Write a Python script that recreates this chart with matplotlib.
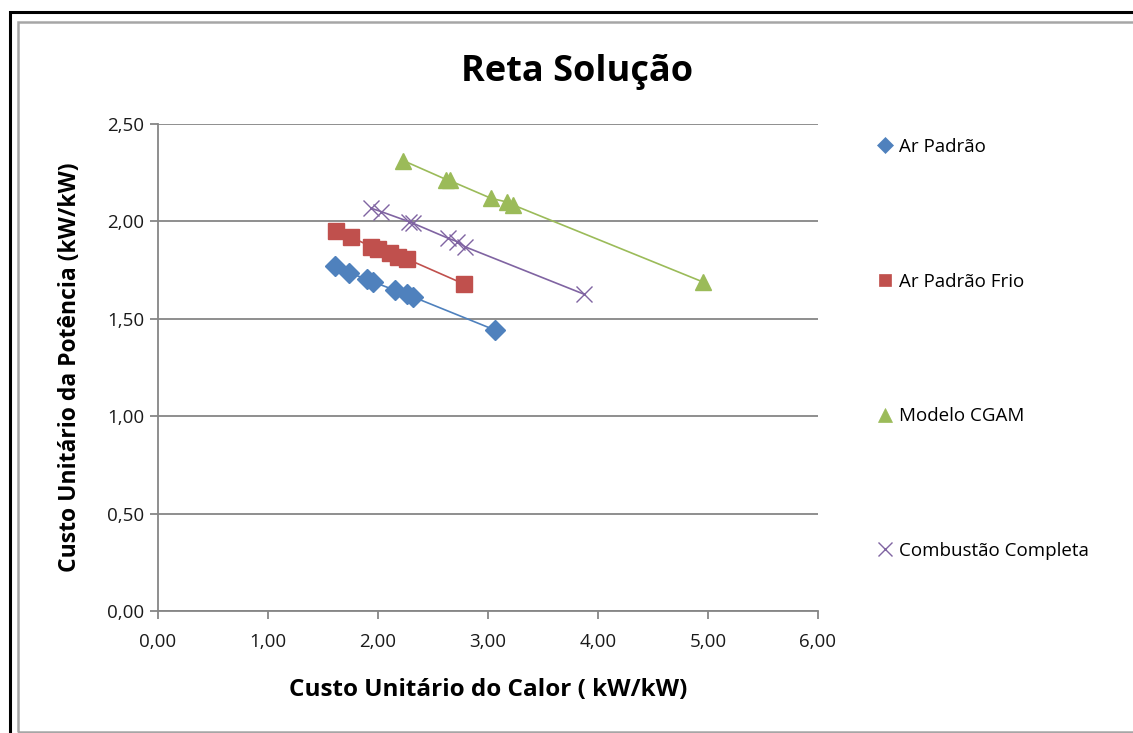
import matplotlib
matplotlib.use("Agg")
import matplotlib.pyplot as plt
from matplotlib.ticker import FuncFormatter, MultipleLocator
from matplotlib.lines import Line2D
from matplotlib.patches import Rectangle

# Data
ar_padrao_x = [1.61, 1.74, 1.90, 1.95, 2.15, 2.26, 2.32, 3.06]
ar_padrao_y = [1.771, 1.733, 1.705, 1.690, 1.648, 1.627, 1.612, 1.443]

frio_x = [1.62, 1.75, 1.94, 2.00, 2.11, 2.18, 2.26, 2.78]
frio_y = [1.952, 1.921, 1.870, 1.860, 1.836, 1.819, 1.808, 1.679]

cgam_x = [2.23, 2.62, 2.65, 3.03, 3.17, 3.23, 4.95]
cgam_y = [2.312, 2.215, 2.210, 2.118, 2.100, 2.084, 1.690]

comb_x = [1.94, 2.03, 2.28, 2.32, 2.64, 2.72, 2.79, 3.87]
comb_y = [2.067, 2.050, 1.999, 1.990, 1.913, 1.896, 1.870, 1.627]

labels = ["Ar Padrão", "Ar Padrão Frio", "Modelo CGAM", "Combustão Completa"]
colors = ["#4F81BD", "#C0504D", "#9BBB59", "#8064A2"]

plt.rcParams['font.family'] = ['Open Sans', 'DejaVu Sans']

W, H = 1133, 733
fig = plt.figure(figsize=(W / 100, H / 100), dpi=100)

# Frames
fig.patches.append(Rectangle((10 / W, -0.1), 1.2, (733 - 12) / H + 0.1, transform=fig.transFigure,
                             fill=False, edgecolor="black", linewidth=2.2, zorder=0))
fig.patches.append(Rectangle((18 / W, 1.5 / H), 1.2, (733 - 22 - 1.5) / H, transform=fig.transFigure,
                             fill=False, edgecolor="#A6A6A6", linewidth=1.8, zorder=0))

ax = fig.add_axes([158 / W, (H - 611) / H, 660 / W, 487 / H])

series = [
    (ar_padrao_x, ar_padrao_y, "D", 10),
    (frio_x, frio_y, "s", 11),
    (cgam_x, cgam_y, "^", 12),
    (comb_x, comb_y, "x", 12),
]
handles = []
for (xs, ys, m, ms), lab, c in zip(series, labels, colors):
    ax.plot(xs, ys, color=c, linewidth=1.2, zorder=2)
    if m == "x":
        ax.plot(xs, ys, linestyle="none", marker=m, markersize=ms, markeredgewidth=1.0,
                color=c, zorder=3)
    else:
        ax.plot(xs, ys, linestyle="none", marker=m, markersize=ms, color=c,
                markeredgecolor=c, zorder=3)
    handles.append(Line2D([], [], linestyle="none", marker=m,
                          markersize=ms * 0.8 if m != "x" else 10, color=c,
                          markeredgewidth=1.0 if m == "x" else 0.5, markeredgecolor=c))

ax.set_xlim(0, 6)
ax.set_ylim(0, 2.5)
ax.xaxis.set_major_locator(MultipleLocator(1))
ax.yaxis.set_major_locator(MultipleLocator(0.5))
fmt = FuncFormatter(lambda v, p: f"{v:.2f}".replace(".", ","))
ax.xaxis.set_major_formatter(fmt)
ax.yaxis.set_major_formatter(fmt)

ax.grid(axis="y", color="#868686", linewidth=1.3)
ax.set_axisbelow(True)
for s in ["top", "right"]:
    ax.spines[s].set_visible(False)
for s in ["left", "bottom"]:
    ax.spines[s].set_color("#868686")
    ax.spines[s].set_linewidth(1.3)
ax.tick_params(axis="both", colors="#868686", width=1.3, length=6, labelcolor="#1a1a1a",
               labelsize=13.5)
ax.tick_params(axis="x", pad=10)
ax.tick_params(axis="y", pad=4)

ax.set_xlabel("Custo Unitário do Calor ( kW/kW)", fontsize=17.5, fontweight="bold", labelpad=19)
ax.set_ylabel("Custo Unitário da Potência (kW/kW)", fontsize=16.5, fontweight="bold", labelpad=18)

fig.text(577 / W, 1 - 72 / H, "Reta Solução", ha="center", va="center",
         fontsize=26, fontweight="bold")

leg = fig.legend(handles, labels, loc="upper left", bbox_to_anchor=(869 / W, 1 - 130.5 / H),
                 frameon=False, fontsize=13.5, labelspacing=6.22, handlelength=0.9,
                 handletextpad=0.3, borderaxespad=0)

fig.savefig("out.png", dpi=100)
